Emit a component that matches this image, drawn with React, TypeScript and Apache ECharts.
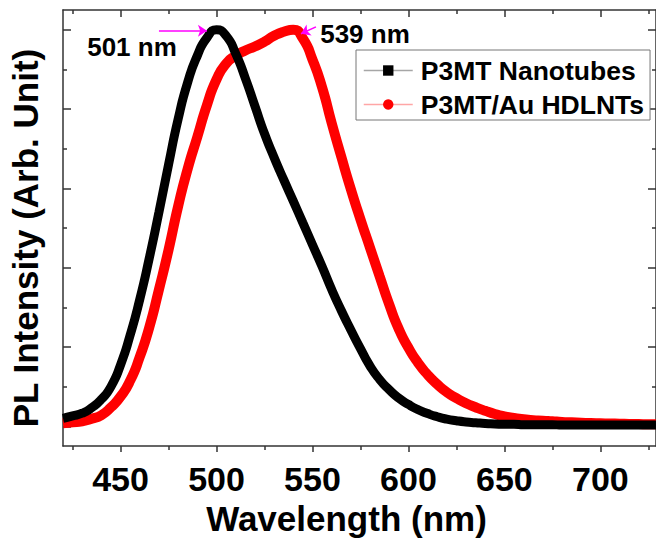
import React, { useEffect, useRef } from "react";
import * as echarts from "echarts";

const wavelengths = [
  420, 425, 430, 435, 440, 445, 450, 455, 460, 465, 470, 475, 480, 485, 490, 495,
  500, 505, 510, 515, 520, 525, 530, 535, 540, 545, 550, 555, 560, 565, 570, 575,
  580, 585, 590, 595, 600, 605, 610, 615, 620, 625, 630, 635, 640, 645, 650, 655,
  660, 665, 670, 675, 680, 685, 690, 695, 700, 705, 710, 715, 720, 725, 730,
];

const nanotubes = [
  0.02, 0.026, 0.033, 0.047, 0.068, 0.1, 0.155, 0.23, 0.32, 0.425, 0.54, 0.66, 0.775, 0.868, 0.935, 0.98,
  1.0, 0.985, 0.94, 0.878, 0.808, 0.738, 0.678, 0.622, 0.568, 0.513, 0.458, 0.403, 0.345, 0.292, 0.243, 0.196,
  0.152, 0.118, 0.092, 0.071, 0.055, 0.042, 0.032, 0.024, 0.018, 0.014, 0.011, 0.009, 0.007, 0.006, 0.005, 0.005,
  0.004, 0.004, 0.004, 0.004, 0.003, 0.003, 0.003, 0.003, 0.003, 0.003, 0.003, 0.003, 0.003, 0.003, 0.003,
];

const hdlnts = [
  0.0075, 0.01, 0.0125, 0.019, 0.028, 0.048, 0.075, 0.115, 0.175, 0.25, 0.345, 0.445, 0.555, 0.65, 0.73, 0.81,
  0.875, 0.915, 0.935, 0.948, 0.958, 0.97, 0.985, 0.995, 1.0, 0.978, 0.925, 0.855, 0.765, 0.68, 0.598, 0.522,
  0.45, 0.378, 0.307, 0.245, 0.198, 0.16, 0.13, 0.106, 0.086, 0.071, 0.058, 0.048, 0.039, 0.031, 0.025, 0.021,
  0.018, 0.015, 0.014, 0.0125, 0.011, 0.01, 0.009, 0.008, 0.0075, 0.007, 0.0065, 0.006, 0.0055, 0.005, 0.005,
];

const seriesNames = ["P3MT Nanotubes", "P3MT/Au HDLNTs"];
const xMajorTicks = [450, 500, 550, 600, 650, 700];
const xMinorTicks = [425, 475, 525, 575, 625, 675, 725];
const yMajorTicks = [0, 0.2, 0.4, 0.6, 0.8, 1.0];
const yMinorTicks = [0.1, 0.3, 0.5, 0.7, 0.9];
const peakLabels = ["501 nm", "539 nm"];
// arrows: [from, to] in data coordinates
const arrowNanotubes = [[470, 0.9975], [495, 0.9975]];
const arrowHdlnts = [[551.8, 1.0075], [544, 0.99]];

const FONT = '"Liberation Sans", Arial, Helvetica, sans-serif';
const X_MIN = 420;
const X_MAX = 729;
const Y_MIN = -0.05;
const Y_MAX = 1.05;

export default function App() {
  const ref = useRef<HTMLDivElement>(null);

  useEffect(() => {
    if (!ref.current) return;
    const chart = echarts.init(ref.current, undefined, { renderer: "svg" });

    const lineStyle = { color: "#333", width: 1.5 };
    const tickLine = { color: "#333", width: 1.5 };

    const xAxisBase = (extra: any) => ({
      type: "value",
      min: X_MIN,
      max: X_MAX,
      splitLine: { show: false },
      axisLabel: { show: false },
      ...extra,
    });
    const yAxisBase = (extra: any) => ({
      type: "value",
      min: Y_MIN,
      max: Y_MAX,
      splitLine: { show: false },
      axisLabel: { show: false },
      ...extra,
    });

    const zip = (ys: number[]) => wavelengths.map((w, i) => [w, ys[i]]);

    const arrowStyle = { color: "#ff00ff", width: 1.5, type: "solid" };

    chart.setOption({
      animation: false,
      backgroundColor: "#fff",
      grid: { left: 58, right: 0, top: 10, bottom: 91, containLabel: false },
      xAxis: [
        xAxisBase({
          position: "bottom",
          axisLine: { show: true, onZero: false, lineStyle },
          axisTick: { show: true, inside: false, length: 6, customValues: xMajorTicks, lineStyle: tickLine },
          axisLabel: {
            show: true,
            customValues: xMajorTicks,
            margin: 16,
            fontSize: 34,
            fontWeight: "bold",
            color: "#000",
            fontFamily: FONT,
          },
          name: "Wavelength (nm)",
          nameLocation: "middle",
          nameGap: 52,
          nameTextStyle: {
            fontSize: 35,
            fontWeight: "bold",
            color: "#000",
            fontFamily: FONT,
            padding: [0, 26, 0, 0],
          },
        }),
        xAxisBase({
          position: "bottom",
          axisLine: { show: false, onZero: false },
          axisTick: { show: true, inside: false, length: 4, customValues: xMinorTicks, lineStyle: tickLine },
        }),
        xAxisBase({
          position: "top",
          axisLine: { show: true, onZero: false, lineStyle },
          axisTick: { show: true, inside: true, length: 7, customValues: xMajorTicks, lineStyle: tickLine },
        }),
        xAxisBase({
          position: "top",
          axisLine: { show: false, onZero: false },
          axisTick: { show: true, inside: true, length: 4, customValues: xMinorTicks, lineStyle: tickLine },
        }),
      ],
      yAxis: [
        yAxisBase({
          position: "left",
          axisLine: { show: true, onZero: false, lineStyle },
          axisTick: { show: true, inside: true, length: 8, customValues: yMajorTicks, lineStyle: tickLine },
          name: "PL Intensity (Arb. Unit)",
          nameLocation: "middle",
          nameGap: 20,
          nameTextStyle: {
            fontSize: 35,
            fontWeight: "bold",
            color: "#000",
            fontFamily: FONT,
            padding: [0, 20, 0, 0],
          },
        }),
        yAxisBase({
          position: "left",
          axisLine: { show: false, onZero: false },
          axisTick: { show: true, inside: true, length: 4, customValues: yMinorTicks, lineStyle: tickLine },
        }),
        yAxisBase({
          position: "right",
          axisLine: { show: true, onZero: false, lineStyle },
          axisTick: { show: true, inside: true, length: 8, customValues: yMajorTicks, lineStyle: tickLine },
        }),
        yAxisBase({
          position: "right",
          axisLine: { show: false, onZero: false },
          axisTick: { show: true, inside: true, length: 4, customValues: yMinorTicks, lineStyle: tickLine },
        }),
      ],
      legend: {
        data: seriesNames,
        orient: "vertical",
        left: 356,
        top: 50,
        itemWidth: 49,
        itemHeight: 13,
        itemGap: 7,
        padding: [7, 6, 2, 7],
        borderColor: "#777",
        borderWidth: 1,
        backgroundColor: "#fff",
        selectedMode: false,
        textStyle: {
          fontFamily: FONT,
          fontSize: 26.5,
          fontWeight: "bold",
          color: "#000",
          padding: [0, 0, 0, 3],
        },
        lineStyle: { width: 1.5, opacity: 0.35 },
      },
      series: [
        {
          name: seriesNames[1],
          type: "line",
          xAxisIndex: 0,
          yAxisIndex: 0,
          data: zip(hdlnts),
          symbol: "circle",
          symbolSize: 10,
          showSymbol: false,
          smooth: 0.6,
          silent: true,
          lineStyle: { color: "#ff0000", width: 10 },
          itemStyle: { color: "#ff0000" },
          markLine: {
            silent: true,
            symbol: ["none", "arrow"],
            symbolSize: 9,
            label: { show: false },
            lineStyle: arrowStyle,
            data: [[{ coord: arrowHdlnts[0] }, { coord: arrowHdlnts[1] }]],
          },
        },
        {
          name: seriesNames[0],
          type: "line",
          xAxisIndex: 0,
          yAxisIndex: 0,
          data: zip(nanotubes),
          symbol: "rect",
          symbolSize: 10,
          showSymbol: false,
          smooth: 0.6,
          silent: true,
          lineStyle: { color: "#000000", width: 9 },
          itemStyle: { color: "#000000" },
          markLine: {
            silent: true,
            symbol: ["none", "arrow"],
            symbolSize: 9,
            label: { show: false },
            lineStyle: arrowStyle,
            data: [[{ coord: arrowNanotubes[0] }, { coord: arrowNanotubes[1] }]],
          },
        },
      ],
      graphic: [
        {
          type: "text",
          x: 132,
          y: 46.5,
          silent: true,
          style: {
            text: peakLabels[0],
            fontFamily: FONT,
            fontSize: 26,
            fontWeight: "bold",
            fill: "#000",
            align: "center",
            verticalAlign: "middle",
          },
        },
        {
          type: "text",
          x: 365,
          y: 33.5,
          silent: true,
          style: {
            text: peakLabels[1],
            fontFamily: FONT,
            fontSize: 26,
            fontWeight: "bold",
            fill: "#000",
            align: "center",
            verticalAlign: "middle",
          },
        },
      ],
    });

    return () => {
      chart.dispose();
    };
  }, []);

  return (
    <div
      ref={ref}
      style={{ position: "fixed", left: 0, top: 0, width: 656, height: 541, background: "#fff" }}
    />
  );
}
